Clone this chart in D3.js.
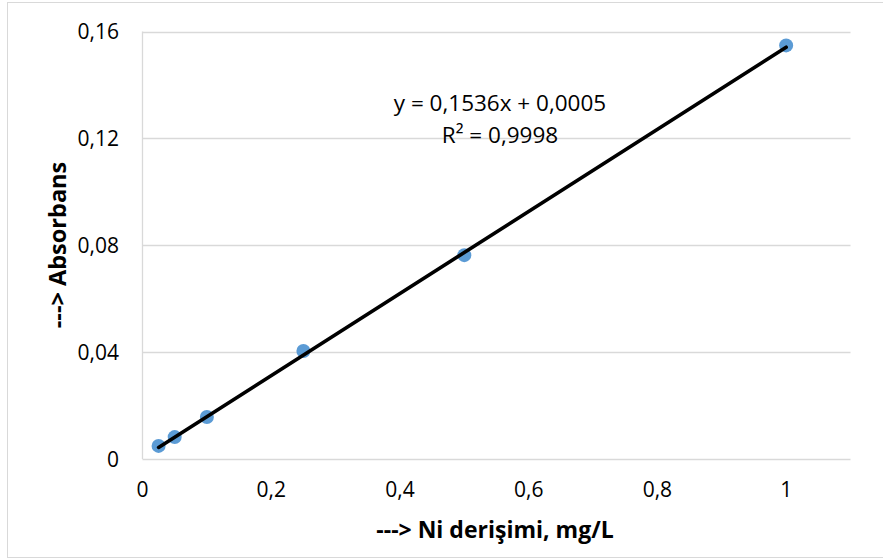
<!DOCTYPE html>
<html>
<head>
<meta charset="utf-8">
<script src="https://cdn.jsdelivr.net/npm/d3@7"></script>
<style>
	body { margin: 0; background: #fff; }
	svg text { font-family: "Open Sans", sans-serif; fill: #000; }
</style>
</head>
<body>
<script>
// data
var concentrations = [0.025, 0.05, 0.1, 0.25, 0.5, 1];
var absorbances = [0.0049, 0.0082, 0.0157, 0.0404, 0.0763, 0.1548];
var xTicks = [0, 0.2, 0.4, 0.6, 0.8, 1];
var yTicks = [0, 0.04, 0.08, 0.12, 0.16];
var slope = 0.1536;
var intercept = 0.0005;
var equationLines = ["y = 0,1536x + 0,0005", "R² = 0,9998"];

var width = 883;
var height = 559;
var margin = {left: 142.5, right: 32.5, top: 31.5, bottom: 100};

var svg = d3.select("body")
			.append("svg")
			.attr("width", width)
			.attr("height", height);

// outer chart border
svg.append("rect")
		.attr("x", 7.5)
		.attr("y", 2.5)
		.attr("width", 890)
		.attr("height", 555)
		.attr("fill", "none")
		.attr("stroke", "#d9d9d9");

var x = d3.scaleLinear().domain([0, 1.1]).range([margin.left, width - margin.right]);
var y = d3.scaleLinear().domain([0, 0.16]).range([height - margin.bottom, margin.top]);

var comma = function(d) { return String(d).replace(".", ","); };

// horizontal grid lines
svg.append("g")
		.selectAll("line")
		.data(yTicks)
		.enter()
		.append("line")
		.attr("x1", margin.left)
		.attr("x2", width - margin.right)
		.attr("y1", function(d) { return Math.round(y(d)) + 0.5; })
		.attr("y2", function(d) { return Math.round(y(d)) + 0.5; })
		.attr("stroke", "#d9d9d9")
		.attr("stroke-width", 1.3);

// left axis line
svg.append("line")
		.attr("x1", margin.left).attr("x2", margin.left)
		.attr("y1", margin.top).attr("y2", height - margin.bottom)
		.attr("stroke", "#d9d9d9")
		.attr("stroke-width", 1.3);

// y tick labels
svg.append("g")
		.selectAll("text")
		.data(yTicks)
		.enter()
		.append("text")
		.attr("x", 119)
		.attr("y", function(d) { return y(d); })
		.attr("dy", "0.36em")
		.attr("text-anchor", "end")
		.attr("font-size", 21)
		.text(function(d) { return d === 0 ? "0" : comma(d.toFixed(2)); });

// x tick labels
svg.append("g")
		.selectAll("text")
		.data(xTicks)
		.enter()
		.append("text")
		.attr("x", function(d) { return x(d); })
		.attr("y", 497)
		.attr("text-anchor", "middle")
		.attr("font-size", 21)
		.text(function(d) { return comma(d); });

// axis titles
svg.append("text")
		.attr("x", 495)
		.attr("y", 538)
		.attr("text-anchor", "middle")
		.attr("font-size", 23)
		.attr("font-weight", "bold")
		.text("---> Ni derişimi, mg/L");

svg.append("text")
		.attr("transform", "translate(66,245) rotate(-90)")
		.attr("text-anchor", "middle")
		.attr("font-size", 23.5)
		.attr("font-weight", "bold")
		.text("---> Absorbans");

// data points
svg.append("g")
		.selectAll("circle")
		.data(concentrations)
		.enter()
		.append("circle")
		.attr("cx", function(d) { return x(d); })
		.attr("cy", function(d, i) { return y(absorbances[i]); })
		.attr("r", 7)
		.attr("fill", "#5b9bd5");

// linear trend line
var xMin = d3.min(concentrations);
var xMax = d3.max(concentrations);
svg.append("line")
		.attr("x1", x(xMin))
		.attr("y1", y(slope * xMin + intercept))
		.attr("x2", x(xMax))
		.attr("y2", y(slope * xMax + intercept))
		.attr("stroke", "#000")
		.attr("stroke-width", 3.6)
		.attr("stroke-linecap", "round");

// equation label
svg.append("g")
		.selectAll("text")
		.data(equationLines)
		.enter()
		.append("text")
		.attr("x", 500)
		.attr("y", function(d, i) { return 111 + i * 32; })
		.attr("text-anchor", "middle")
		.attr("font-size", 22.5)
		.text(function(d) { return d; });
</script>
</body>
</html>
